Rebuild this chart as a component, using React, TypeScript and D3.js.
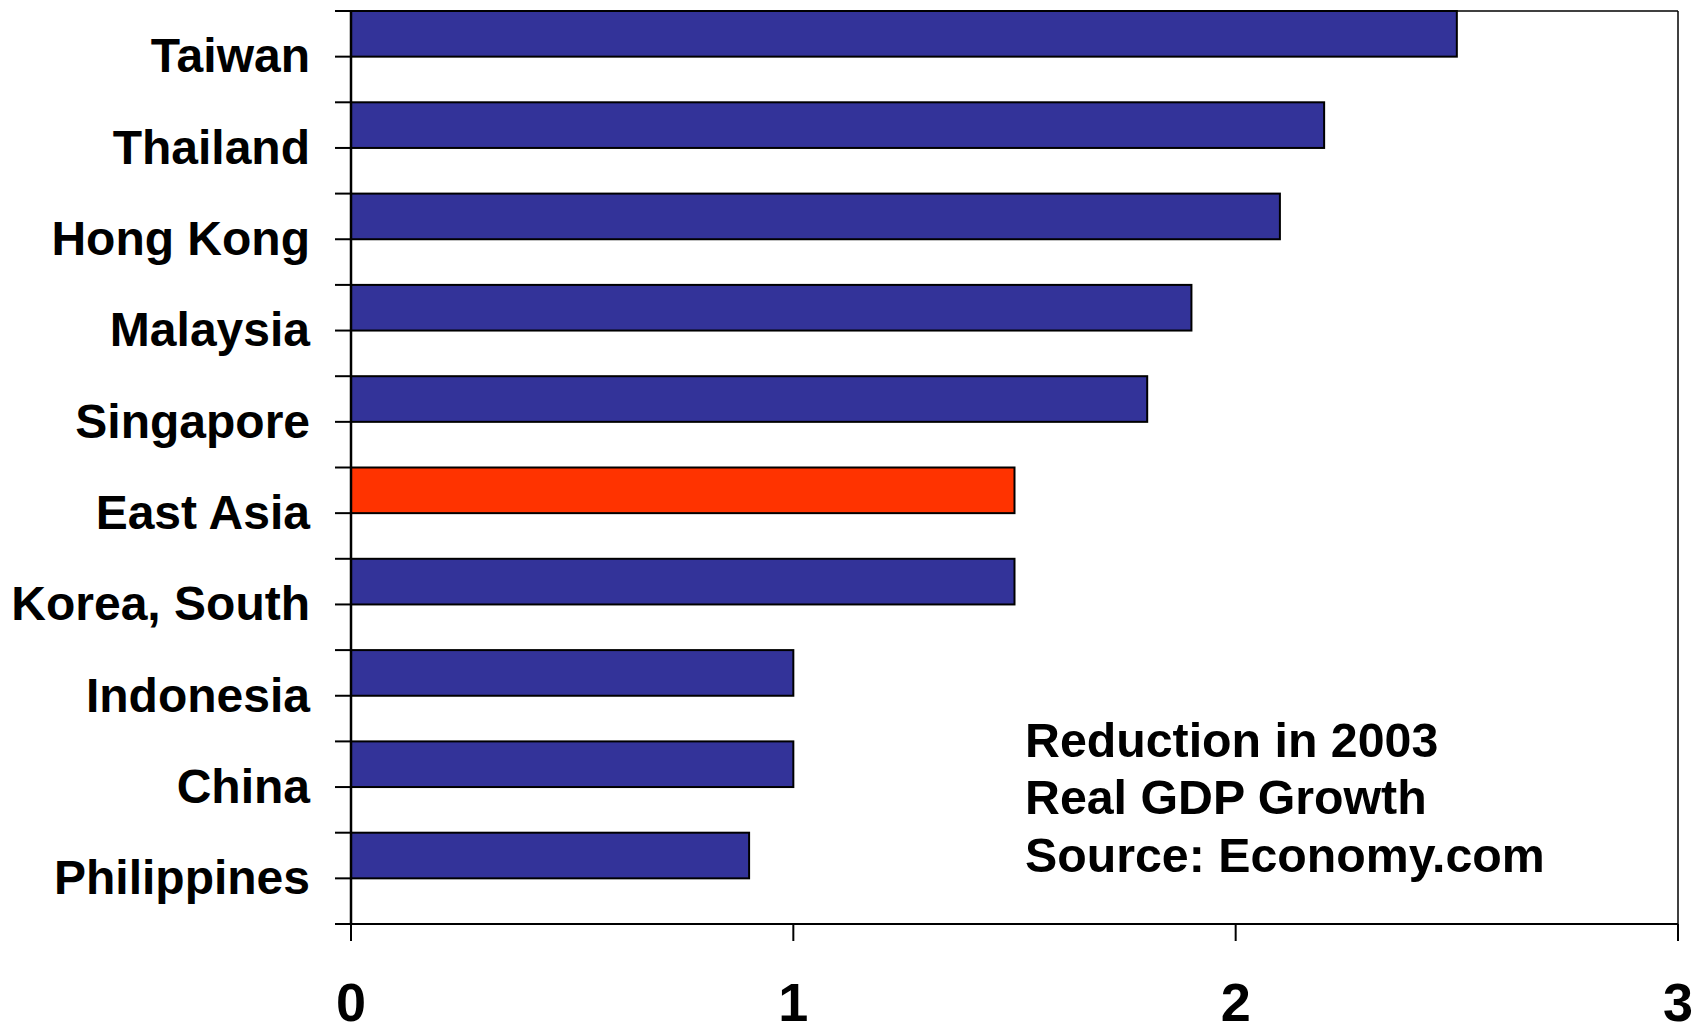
import React from "react";
import * as d3 from "d3";

const countries = [
  "Taiwan",
  "Thailand",
  "Hong Kong",
  "Malaysia",
  "Singapore",
  "East Asia",
  "Korea, South",
  "Indonesia",
  "China",
  "Philippines",
];
const reduction = [2.5, 2.2, 2.1, 1.9, 1.8, 1.5, 1.5, 1.0, 1.0, 0.9];
const highlighted = ["East Asia"];
const xTicks = [0, 1, 2, 3];
const noteLines = ["Reduction in 2003", "Real GDP Growth", "Source: Economy.com"];

const W = 1702;
const H = 1026;
const left = 351;
const right = 1678;
const top = 11;
const bottom = 924;
const FONT = "'Liberation Sans', Arial, sans-serif";

export default function App() {
  const x = d3.scaleLinear().domain([0, 3]).range([left, right]);
  // two slots per category: the bar fills the upper slot, the label sits on the boundary below it
  const slots = countries.length * 2;
  const y = d3.scaleLinear().domain([0, slots]).range([top, bottom]);
  const slotTicks = d3.range(slots + 1);

  return (
    <svg
      width={W}
      height={H}
      style={{ position: "absolute", left: 0, top: 0, background: "#fff" }}
      fontFamily={FONT}
    >
      {/* plot frame */}
      <line x1={left} x2={right} y1={top} y2={top} stroke="#000" strokeWidth={1.5} />
      <line x1={right} x2={right} y1={top} y2={bottom} stroke="#000" strokeWidth={1.5} />

      {/* bars */}
      {countries.map((c, i) => (
        <rect
          key={c}
          x={x(0)}
          y={y(2 * i)}
          width={x(reduction[i]) - x(0)}
          height={y(2 * i + 1) - y(2 * i)}
          fill={highlighted.includes(c) ? "#FF3300" : "#333399"}
          stroke="#000"
          strokeWidth={2}
        />
      ))}

      {/* category axis */}
      <line x1={left} x2={left} y1={top} y2={bottom} stroke="#000" strokeWidth={2.5} />
      {slotTicks.map((k) => (
        <line key={k} x1={left - 16} x2={left} y1={y(k)} y2={y(k)} stroke="#000" strokeWidth={2} />
      ))}
      {countries.map((c, i) => (
        <text
          key={c}
          x={310}
          y={y(2 * i + 1)}
          dy="0.33em"
          textAnchor="end"
          fontSize={48}
          fontWeight="bold"
          fill="#000"
        >
          {c}
        </text>
      ))}

      {/* value axis */}
      <line x1={left} x2={right} y1={bottom} y2={bottom} stroke="#000" strokeWidth={2} />
      {xTicks.map((t) => (
        <g key={t}>
          <line x1={x(t)} x2={x(t)} y1={bottom} y2={bottom + 17} stroke="#000" strokeWidth={2} />
          <text
            x={x(t)}
            y={1021}
            textAnchor="middle"
            fontSize={54}
            fontWeight="bold"
            fill="#000"
          >
            {t}
          </text>
        </g>
      ))}

      {/* note */}
      {noteLines.map((line, i) => (
        <text
          key={line}
          x={1025}
          y={756.5 + i * 57.5}
          fontSize={48.3}
          fontWeight="bold"
          fill="#000"
        >
          {line}
        </text>
      ))}
    </svg>
  );
}
